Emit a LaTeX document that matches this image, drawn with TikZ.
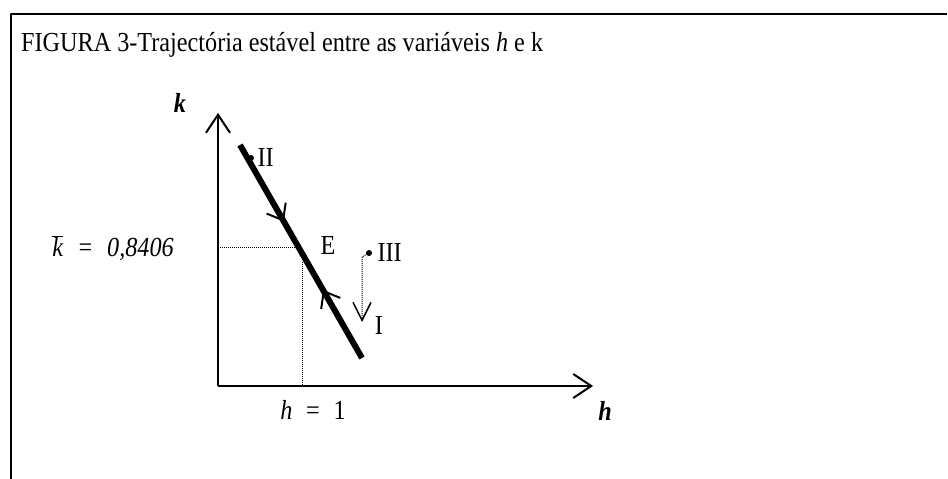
\documentclass[tikz,border=0pt]{standalone}
\usepackage{fontspec}
\setmainfont{Liberation Serif}[FakeStretch=0.88]
\usetikzlibrary{arrows.meta,decorations.markings}
\begin{document}
\begin{tikzpicture}[x=1pt, y=1pt, line join=round, font=\fontsize{27.5}{32}\selectfont,
		barb/.style={-{Straight Barb[length=18pt,width=24pt,line width=2pt]}},
		guide/.style={line width=1pt, densely dotted},
		traj/.style={line width=6pt, postaction={decorate}, decoration={markings,
			mark=at position 0.36 with {\arrow[line width=2pt]{Straight Barb[length=14pt,width=22pt]}},
			mark=at position 0.68 with {\arrowreversed[line width=2pt]{Straight Barb[length=14pt,width=22pt]}}}}]
	\useasboundingbox (0,0) rectangle (948,479);
	% frame and title
	\draw[line width=2.5pt] (11,0) -- (11,465) -- (947,465);
	\node[anchor=base west, inner sep=0pt] (title) at (21,427) {FIGURA 3-Trajectória estável entre as variáveis \textit{h} e k};
	% axes
	\coordinate (O) at (218,93);
	\coordinate (ktop) at (218,366);
	\coordinate (hend) at (593,93);
	\draw[barb, line width=2.5pt] (O) -- (ktop);
	\draw[barb, line width=2.5pt] (O) -- (hend);
	\node (klab) at (180,376) {\textbf{\textit{k}}};
	\node (hlab) at (605,68) {\textbf{\textit{h}}};
	% trajectory
	\coordinate (A) at (240,334);
	\coordinate (B) at (362,121);
	\draw[traj] (A) -- (B);
	\coordinate (E) at (299,231);
	\draw[guide] (218,231) -- (E);
	\draw[guide] (302,217) -- (302,93);
	\node (kbar) at (113,231) {$\overline{\mbox{\textit{k}}}$\enspace\textit{=\enspace 0,8406}};
	\node (hone) at (313,69) {\textit{h}\enspace=\enspace1};
	\node (Elab) at (328,233) {E};
	% points
	\fill (251,321) circle (3pt) node[right=3pt] (II) {II};
	\coordinate (III) at (369,226);
	\fill (III) circle (3pt);
	\node[right=5pt] (IIIlab) at (III) {III};
	\coordinate (Iend) at (362,157);
	\draw[guide, -{Straight Barb[length=18pt,width=18pt,line width=1.5pt]}] (III) -- (362,222) -- (Iend);
	\node (Ilab) at (379,153) {I};
\end{tikzpicture}
\end{document}
